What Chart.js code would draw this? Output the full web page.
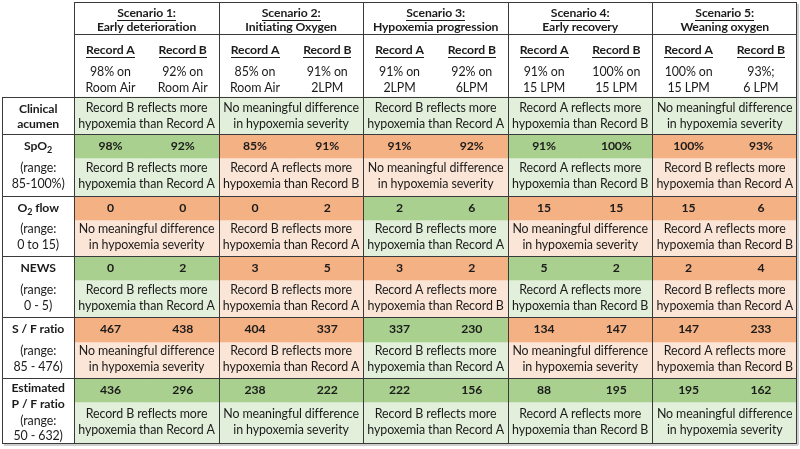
<!DOCTYPE html>
<html><head><meta charset="utf-8">
<script src="https://cdn.jsdelivr.net/npm/chart.js@4/dist/chart.umd.min.js"></script>
<style>html,body{margin:0;padding:0;background:#fff}canvas{display:block}</style>
</head><body>
<canvas id="c" width="800" height="449"></canvas>
<script>
// ---------- DATA ----------
const scenarioNums = ['Scenario 1:', 'Scenario 2:', 'Scenario 3:', 'Scenario 4:', 'Scenario 5:'];
const scenarioNames = ['Early deterioration', 'Initiating Oxygen', 'Hypoxemia progression', 'Early recovery', 'Weaning oxygen'];
const recordNames = ['Record A', 'Record B'];
const recordADesc = [['98% on', 'Room Air'], ['85% on', 'Room Air'], ['91% on', '2LPM'], ['91% on', '15 LPM'], ['100% on', '15 LPM']];
const recordBDesc = [['92% on', 'Room Air'], ['91% on', '2LPM'], ['92% on', '6LPM'], ['100% on', '15 LPM'], ['93%;', '6 LPM']];

const clinicalAcumen = ['B', 'N', 'B', 'A', 'N'];

const metricTitles = [['SpO|2'], ['O|2| flow'], ['NEWS'], ['S / F ratio'], ['Estimated', 'P / F ratio']];
const metricRanges = ['85-100%)', '0 to 15)', '0 - 5)', '85 - 476)', '50 - 632)'];

const spo2A = ['98%', '85%', '91%', '91%', '100%'];
const spo2B = ['92%', '91%', '92%', '100%', '93%'];
const o2FlowA = [0, 0, 2, 15, 15];
const o2FlowB = [0, 2, 6, 15, 6];
const newsA = [0, 3, 3, 5, 2];
const newsB = [2, 5, 2, 2, 4];
const sfA = [467, 404, 337, 134, 147];
const sfB = [438, 337, 230, 147, 233];
const pfA = [436, 238, 222, 88, 195];
const pfB = [296, 222, 156, 195, 162];

const spo2Verdict = ['B', 'A', 'N', 'A', 'B'];
const o2FlowVerdict = ['N', 'B', 'B', 'N', 'A'];
const newsVerdict = ['B', 'B', 'A', 'A', 'B'];
const sfVerdict = ['N', 'B', 'B', 'N', 'A'];
const pfVerdict = ['B', 'N', 'B', 'A', 'N'];

const verdictText = {
  A: ['Record A reflects more', 'hypoxemia than Record B'],
  B: ['Record B reflects more', 'hypoxemia than Record A'],
  N: ['No meaningful difference', 'in hypoxemia severity']
};

// ---------- STYLE / LAYOUT ----------
const FONT = 'Lato, "Open Sans", sans-serif';
const REG = 12.4, BOLD = 12.2;
const COL = { green: '#A9D08E', lightGreen: '#E2EFDA', orange: '#F4B183', lightOrange: '#FBE5D6', line: '#3a3a3a', text: '#1b1b1b' };
const Y = { top: 2, titleLine: 34, head: 97, acumenEnd: 134, H: 449 };
const rowLayout = [
  { v0: 134, v1: 158, t1: 196 },
  { v0: 196, v1: 220, t1: 256 },
  { v0: 256, v1: 280, t1: 317 },
  { v0: 317, v1: 342, t1: 378 },
  { v0: 378, v1: 402, t1: 443 }
];

const metrics = [
  { a: spo2A, b: spo2B, verdict: spo2Verdict },
  { a: o2FlowA, b: o2FlowB, verdict: o2FlowVerdict },
  { a: newsA, b: newsB, verdict: newsVerdict },
  { a: sfA, b: sfB, verdict: sfVerdict },
  { a: pfA, b: pfB, verdict: pfVerdict }
];

// categories: label column + (Record A, Record B) for each scenario
const categories = [''];
scenarioNums.forEach((s, i) => recordNames.forEach(r => categories.push(s + ' ' + r)));

function stripDataset(y0, y1, colorFn) {
  const data = [null];
  const bg = ['rgba(0,0,0,0)'];
  for (let s = 0; s < 5; s++) {
    for (let k = 0; k < 2; k++) { data.push([y0, y1]); bg.push(colorFn(s)); }
  }
  return { data, backgroundColor: bg, borderWidth: 0, grouped: false, barPercentage: 1, categoryPercentage: 1 };
}

const datasets = [];
datasets.push(stripDataset(Y.head, Y.acumenEnd, () => COL.lightGreen));
metrics.forEach((m, i) => {
  const L = rowLayout[i];
  datasets.push(stripDataset(L.v0, L.v1, s => m.verdict[s] === clinicalAcumen[s] ? COL.green : COL.orange));
  datasets.push(stripDataset(L.v1, L.t1, s => m.verdict[s] === clinicalAcumen[s] ? COL.lightGreen : COL.lightOrange));
});

// ---------- DRAW HELPERS ----------
function setFont(ctx, size, bold) {
  ctx.font = (bold ? 'bold ' : '') + size + 'px ' + FONT;
  if ('letterSpacing' in ctx) ctx.letterSpacing = bold ? '-0.1px' : '-0.1px';
}
function rich(ctx, spec, cx, cy, size, bold) {
  const parts = spec.split('|');
  const segs = parts.map((t, i) => ({ t, sub: i % 2 === 1 }));
  let w = 0;
  segs.forEach(s => { setFont(ctx, s.sub ? Math.round(size * 0.7) : size, bold); s.w = ctx.measureText(s.t).width; w += s.w; });
  let x = cx - w / 2;
  ctx.textAlign = 'left';
  segs.forEach(s => {
    setFont(ctx, s.sub ? Math.round(size * 0.7) : size, bold);
    ctx.fillText(s.t, x, s.sub ? cy + 4 : cy);
    x += s.w;
  });
  ctx.textAlign = 'center';
}
function txt(ctx, t, x, y, size, bold, underline) {
  setFont(ctx, size, bold);
  ctx.fillText(t, x, y);
  if (underline) {
    const w = ctx.measureText(t).width;
    ctx.fillRect(Math.round(x - w / 2), Math.round(y + size * 0.55), Math.round(w), 1);
  }
}

const tablePlugin = {
  id: 'tableText',
  afterDatasetsDraw(chart) {
    const ctx = chart.ctx;
    const xs = chart.scales.x, ys = chart.scales.y;
    const cw = (xs.right - xs.left) / categories.length;
    const cx = i => xs.getPixelForValue(i);
    const edge = i => xs.left + i * cw;
    const py = v => ys.getPixelForValue(v);
    const scx = s => (cx(1 + 2 * s) + cx(2 + 2 * s)) / 2;

    ctx.save();
    ctx.fillStyle = COL.line;
    const hline = (x0, x1, y) => ctx.fillRect(Math.round(x0), Math.round(py(y)), Math.round(x1 - x0) + 1, 1);
    const vline = (x, y0, y1) => ctx.fillRect(Math.round(x), Math.round(py(y0)), 1, Math.round(py(y1) - py(y0)) + 1);
    const L = xs.left, R = xs.right - 1, C1 = edge(1);
    const bottom = rowLayout[4].t1;
    hline(C1, R, Y.top);
    hline(C1, R, Y.titleLine);
    hline(L, R, Y.head);
    hline(L, R, Y.acumenEnd);
    rowLayout.forEach(r => hline(L, R, r.t1));
    vline(L, Y.head, bottom);
    for (let s = 0; s <= 5; s++) vline(s === 5 ? R : edge(1 + 2 * s), Y.top, bottom);
    ctx.fillStyle = '#cfcfcf';
    ctx.fillRect(Math.round(R) + 1, Math.round(py(Y.top)) + 2, 2, Math.round(py(bottom) - py(Y.top)));
    ctx.fillRect(Math.round(L) + 2, Math.round(py(bottom)) + 1, Math.round(R - L), 2);

    ctx.fillStyle = COL.text;
    ctx.textAlign = 'center';
    ctx.textBaseline = 'middle';
    for (let s = 0; s < 5; s++) {
      const x = scx(s);
      txt(ctx, scenarioNums[s], x, py(13), BOLD, true, true);
      txt(ctx, scenarioNames[s], x, py(27), BOLD, true, false);
      const xa = cx(1 + 2 * s), xb = cx(2 + 2 * s);
      txt(ctx, recordNames[0], xa, py(50), BOLD, true, true);
      txt(ctx, recordNames[1], xb, py(50), BOLD, true, true);
      txt(ctx, recordADesc[s][0], xa, py(72), REG, false);
      txt(ctx, recordADesc[s][1], xa, py(88), REG, false);
      txt(ctx, recordBDesc[s][0], xb, py(72), REG, false);
      txt(ctx, recordBDesc[s][1], xb, py(88), REG, false);
      const ac = verdictText[clinicalAcumen[s]];
      txt(ctx, ac[0], x, py(108), REG, false);
      txt(ctx, ac[1], x, py(124), REG, false);
      metrics.forEach((m, i) => {
        const r = rowLayout[i];
        const vm = (r.v0 + r.v1) / 2;
        txt(ctx, String(m.a[s]), xa, py(vm), BOLD, true);
        txt(ctx, String(m.b[s]), xb, py(vm), BOLD, true);
        const tm = (r.v1 + r.t1) / 2 - 1;
        const vt = verdictText[m.verdict[s]];
        txt(ctx, vt[0], x, py(tm - 8), REG, false);
        txt(ctx, vt[1], x, py(tm + 8), REG, false);
      });
    }
    const lx = cx(0);
    txt(ctx, 'Clinical', lx, py(109), BOLD, true);
    txt(ctx, 'acumen', lx, py(124), BOLD, true);
    metricTitles.forEach((t, i) => {
      const r = rowLayout[i];
      if (t.length === 1) {
        const vm = (r.v0 + r.v1) / 2;
        rich(ctx, t[0], lx, py(vm), BOLD, true);
        const tm = (r.v1 + r.t1) / 2 - 1;
        txt(ctx, '(range:', lx, py(tm - 8), REG, false);
        txt(ctx, metricRanges[i], lx, py(tm + 8), REG, false);
      } else {
        txt(ctx, t[0], lx, py(r.v0 + 10), BOLD, true);
        txt(ctx, t[1], lx, py(r.v0 + 26), BOLD, true);
        txt(ctx, '(range:', lx, py(r.v0 + 43), REG, false);
        txt(ctx, metricRanges[i], lx, py(r.v0 + 58), REG, false);
      }
    });
    ctx.restore();
  }
};

new Chart(document.getElementById('c'), {
  type: 'bar',
  data: { labels: categories, datasets },
  options: {
    responsive: false,
    animation: false,
    events: [],
    layout: { padding: { left: 2, right: 3, top: 0, bottom: 0 } },
    plugins: { legend: { display: false }, tooltip: { enabled: false } },
    scales: {
      x: { type: 'category', display: false, offset: true, grid: { display: false } },
      y: { type: 'linear', display: false, min: 0, max: Y.H, reverse: true, grid: { display: false } }
    }
  },
  plugins: [tablePlugin]
});
</script>
</body></html>
